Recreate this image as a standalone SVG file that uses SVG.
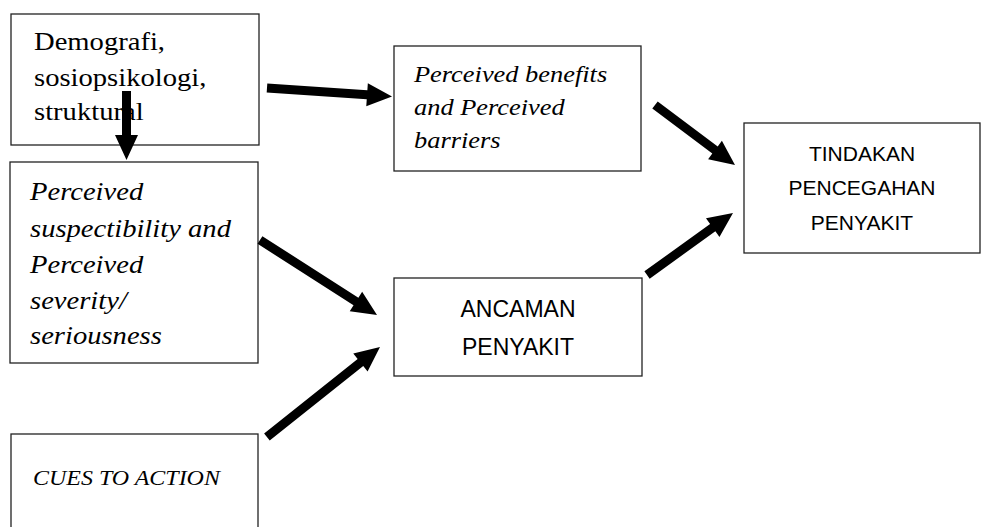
<svg xmlns="http://www.w3.org/2000/svg" width="981" height="527" viewBox="0 0 981 527">
<style>
.box{fill:#fff;stroke:#222;stroke-width:1.3}
.serif{font-family:"Liberation Serif","Times New Roman",serif;fill:#000}
.it{font-style:italic}
.sans{font-family:"Liberation Sans",Arial,sans-serif;fill:#000;text-anchor:middle}
.arr{fill:#000}
</style>
<rect width="981" height="527" fill="#fff"/>
<g id="node-demografi">
<rect class="box" x="11" y="14" width="248" height="131"/>
<text class="serif" font-size="26" transform="translate(34,0) scale(1.1,1)"><tspan x="0" y="50">Demografi,</tspan><tspan x="0" y="86">sosiopsikologi,</tspan><tspan x="0" y="120">struktural</tspan></text>
</g>
<g id="node-susceptibility">
<rect class="box" x="10" y="162" width="248" height="201"/>
<text class="serif it" font-size="26" transform="translate(30,0) scale(1.1,1)"><tspan x="0" y="200">Perceived</tspan><tspan x="0" y="237">suspectibility and</tspan><tspan x="0" y="273">Perceived</tspan><tspan x="0" y="309">severity/</tspan><tspan x="0" y="344">seriousness</tspan></text>
</g>
<g id="node-benefits">
<rect class="box" x="394" y="46" width="247" height="125"/>
<text class="serif it" font-size="24" transform="translate(414,0) scale(1.1,1)"><tspan x="0" y="82">Perceived benefits</tspan><tspan x="0" y="115">and Perceived</tspan><tspan x="0" y="148">barriers</tspan></text>
</g>
<g id="node-cues">
<rect class="box" x="11" y="434" width="247" height="110"/>
<text class="serif it" font-size="22" transform="translate(33,0) scale(1.09,1)"><tspan x="0" y="485">CUES TO ACTION</tspan></text>
</g>
<g id="node-ancaman">
<rect class="box" x="394" y="278" width="248" height="98"/>
<text class="sans" font-size="23"><tspan x="518" y="317">ANCAMAN</tspan><tspan x="518" y="355">PENYAKIT</tspan></text>
</g>
<g id="node-tindakan">
<rect class="box" x="744" y="123" width="236" height="130"/>
<text class="sans" font-size="21"><tspan x="862" y="161">TINDAKAN</tspan><tspan x="862" y="195">PENCEGAHAN</tspan><tspan x="862" y="230">PENYAKIT</tspan></text>
</g>
<g id="connectors" class="arr">
<g transform="translate(126.5,160) rotate(90)"><polygon points="-69,-4.5 -25,-4.5 -25,-11.5 0,0 -25,11.5 -25,4.5 -69,4.5"/></g>
<g transform="translate(392,96.5) rotate(3.89)"><polygon points="-125.3,-4.5 -25,-4.5 -25,-11.5 0,0 -25,11.5 -25,4.5 -125.3,4.5"/></g>
<g transform="translate(735,165) rotate(36.87)"><polygon points="-100,-4.5 -25,-4.5 -25,-11.5 0,0 -25,11.5 -25,4.5 -100,4.5"/></g>
<g transform="translate(733,213) rotate(-35.8)"><polygon points="-106,-4.5 -25,-4.5 -25,-11.5 0,0 -25,11.5 -25,4.5 -106,4.5"/></g>
<g transform="translate(377,315) rotate(32.66)"><polygon points="-139,-4.5 -25,-4.5 -25,-11.5 0,0 -25,11.5 -25,4.5 -139,4.5"/></g>
<g transform="translate(380,347) rotate(-38.5)"><polygon points="-144.5,-4.5 -25,-4.5 -25,-11.5 0,0 -25,11.5 -25,4.5 -144.5,4.5"/></g>
</g>
</svg>
